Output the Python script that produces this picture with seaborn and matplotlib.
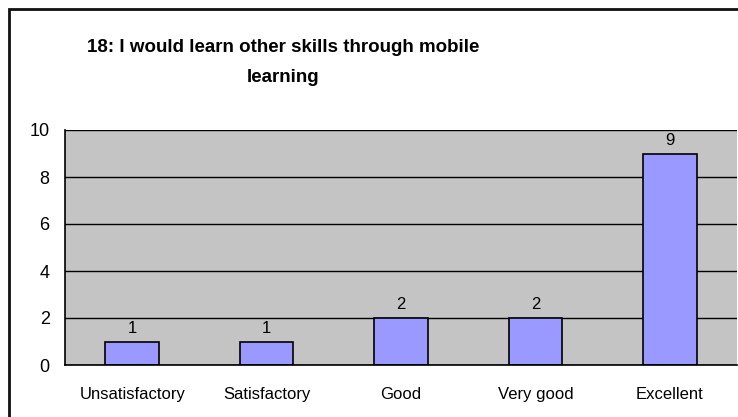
import seaborn as sns
import matplotlib.pyplot as plt
import matplotlib.patches as patches
import pandas as pd

categories = ['Unsatisfactory', 'Satisfactory', 'Good', 'Very good', 'Excellent']
counts = [1, 1, 2, 2, 9]

df = pd.DataFrame({'rating': categories, 'count': counts})

sns.set_style('white')
plt.rcParams['font.family'] = ['Liberation Sans', 'DejaVu Sans']
plt.rcParams['text.color'] = 'black'
plt.rcParams['xtick.color'] = 'black'
plt.rcParams['ytick.color'] = 'black'

fig = plt.figure(figsize=(7.38, 4.17), dpi=100)
ax = fig.add_axes([65 / 738, 1 - 365 / 417, (737 - 65) / 738, (365 - 130) / 417])

# outer chart frame
frame = patches.Rectangle((9 / 738, -0.1), 1.2, 1 - 9 / 417 + 0.1, transform=fig.transFigure,
                          fill=False, edgecolor='#111111', linewidth=2, clip_on=False)
fig.patches.append(frame)

ax.set_facecolor('#c4c4c4')
sns.barplot(data=df, x='rating', y='count', color='#9999ff', edgecolor='black',
            linewidth=1.2, width=0.4, saturation=1, ax=ax)
ax.bar_label(ax.containers[0], padding=4, fontsize=12, color='black')

ax.set_ylim(0, 10)
ax.set_yticks(range(0, 11, 2))
ax.set_xlim(-0.5, 4.5)
ax.yaxis.grid(True, color='black', linewidth=1)
ax.set_axisbelow(True)
ax.set_xlabel('')
ax.set_ylabel('')

for s in ['top', 'right']:
    ax.spines[s].set_visible(False)
for s in ['left', 'bottom']:
    ax.spines[s].set_color('black')
    ax.spines[s].set_linewidth(1.2)

ax.set_xticks(range(5))
ax.set_xticklabels(categories, fontsize=12)
ax.tick_params(axis='x', length=0, pad=16, labelcolor='black')
ax.set_xticks([i - 0.5 for i in range(6)], minor=True)
ax.tick_params(axis='x', which='minor', length=5, width=1.2, color='black', direction='out')
ax.tick_params(axis='y', length=5, width=1.2, color='black', direction='out',
               labelsize=13, pad=6, labelcolor='black')

fig.text(283 / 738, 1 - 48 / 417, '18: I would learn other skills through mobile',
         ha='center', va='center', fontsize=13.5, fontweight='bold', color='black')
fig.text(283 / 738, 1 - 78 / 417, 'learning',
         ha='center', va='center', fontsize=13.5, fontweight='bold', color='black')

fig.savefig('out.png', dpi=100)
